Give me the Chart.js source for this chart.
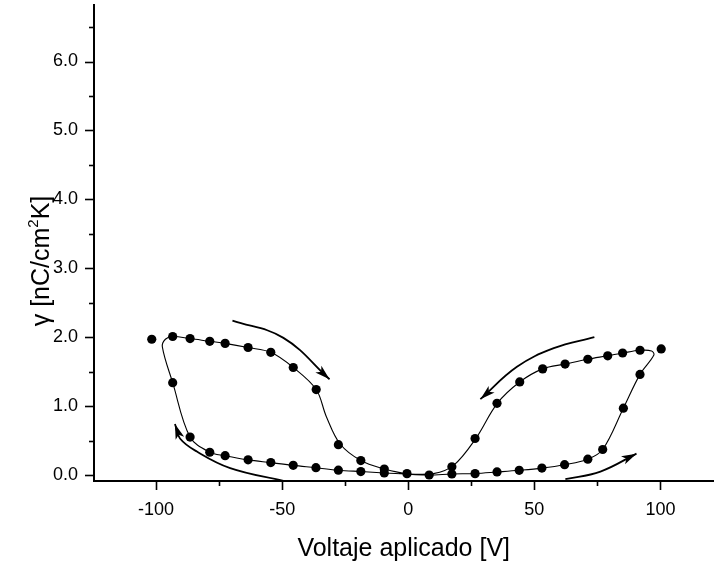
<!DOCTYPE html>
<html><head><meta charset="utf-8">
<script src="https://cdn.jsdelivr.net/npm/chart.js@4/dist/chart.umd.min.js"></script>
<style>html,body{margin:0;padding:0;background:#fff}#wrap{width:718px;height:566px}</style>
</head><body><div id="wrap"><canvas id="c" width="718" height="566"></canvas></div>
<script>
// ---- measured points (voltage V, gamma nC/cm2K) ----
const upperLeftV = [-101.7, -93.4, -86.5, -78.7, -72.6, -63.5, -54.5, -45.6, -36.5, -27.7, -18.8, -9.5];
const upperLeftG = [1.97, 2.01, 1.98, 1.94, 1.91, 1.85, 1.78, 1.56, 1.24, 0.44, 0.21, 0.087];
const lowerLeftV = [-93.4, -86.5, -78.7, -72.6, -63.5, -54.5, -45.6, -36.6, -27.7, -18.8, -9.5, -0.5];
const lowerLeftG = [1.34, 0.55, 0.33, 0.28, 0.22, 0.18, 0.14, 0.106, 0.07, 0.05, 0.03, 0.02];
const upperRightV = [100.3, 91.9, 85.0, 79.1, 71.2, 62.2, 53.3, 44.2, 35.2, 26.5, 17.3];
const upperRightG = [1.83, 1.81, 1.77, 1.73, 1.68, 1.61, 1.54, 1.35, 1.04, 0.53, 0.12];
const lowerRightV = [8.3, 17.3, 26.5, 35.2, 44.0, 53.0, 62.0, 71.2, 77.1, 85.3, 91.9];
const lowerRightG = [0.0, 0.015, 0.02, 0.044, 0.068, 0.10, 0.15, 0.23, 0.37, 0.97, 1.46];

// smooth guide curve traced around both loops
const fitV = [0, 8.3, 17.3, 26.5, 35.2, 44, 53, 62, 71.2, 77.1, 85.3, 91.9, 97.4, 96.5, 91.9, 85, 79.1, 71.2, 62.2, 53.3, 44.2, 35.3, 26.8, 18, 10, 0, -9.5, -18.8, -27.7, -36.6, -45.6, -54.5, -63.5, -72.6, -78.7, -86.5, -93.4, -97.5, -96.3, -93.4, -86.5, -78.7, -72.6, -63.5, -54.5, -45.6, -36.5, -32.5, -27.0, -18.8, -9.5, 0];
const fitG = [0.01, 0.0, 0.015, 0.022, 0.044, 0.068, 0.10, 0.15, 0.23, 0.37, 0.97, 1.46, 1.74, 1.80, 1.81, 1.77, 1.73, 1.68, 1.61, 1.54, 1.35, 1.04, 0.53, 0.14, 0.02, 0.015, 0.03, 0.05, 0.07, 0.106, 0.14, 0.18, 0.22, 0.28, 0.33, 0.55, 1.34, 1.86, 1.97, 2.01, 1.98, 1.94, 1.91, 1.85, 1.78, 1.56, 1.24, 0.85, 0.45, 0.21, 0.087, 0.01];

// direction arrows
const arrow1V = [-69.7, -49.5, -31.2];
const arrow1G = [2.24, 1.99, 1.39];
const arrow2V = [73.8, 57.7, 43.1, 28.6];
const arrow2G = [2.0, 1.84, 1.57, 1.10];
const arrow3V = [62.3, 76.2, 90.5];
const arrow3G = [-0.06, 0.05, 0.31];
const arrow4V = [-49.5, -70.6, -83.8, -90.5, -92.5];
const arrow4G = [-0.085, 0.10, 0.34, 0.53, 0.74];

// axis ticks
const xTicks = [-100, -75, -50, -25, 0, 25, 50, 75, 100];
const xLabels = ['-100', '', '-50', '', '0', '', '50', '', '100'];
const yTicks = [0, 0.5, 1, 1.5, 2, 2.5, 3, 3.5, 4, 4.5, 5, 5.5, 6, 6.5];
const yLabels = ['0.0', '', '1.0', '', '2.0', '', '3.0', '', '4.0', '', '5.0', '', '6.0', ''];

const pts = (xs, ys) => xs.map((v, i) => ({x: v, y: ys[i]}));
const FONT = '"Liberation Sans", Arial, sans-serif';

const allDotsV = [].concat(upperLeftV, lowerLeftV, upperRightV, lowerRightV);
const allDotsG = [].concat(upperLeftG, lowerLeftG, upperRightG, lowerRightG);

function arrowDs(xs, ys) {
  return {data: pts(xs, ys), showLine: true, tension: 0.4, borderColor: '#000', borderWidth: 1.8,
          pointRadius: 0, arrow: true, fill: false};
}

const tickPlugin = {
  id: 'extras',
  afterDraw(chart) {
    const ctx = chart.ctx, xs = chart.scales.x, ys = chart.scales.y, ca = chart.chartArea;
    ctx.save();
    ctx.strokeStyle = '#000'; ctx.lineWidth = 1.6;
    xTicks.forEach((v, i) => {
      const p = Math.round(xs.getPixelForValue(v)) + 0.5;
      const len = xLabels[i] ? 9 : 5;
      ctx.beginPath(); ctx.moveTo(p, ca.bottom); ctx.lineTo(p, ca.bottom + len); ctx.stroke();
    });
    yTicks.forEach((v, i) => {
      const p = Math.round(ys.getPixelForValue(v)) + 0.5;
      const len = yLabels[i] ? 9 : 5;
      ctx.beginPath(); ctx.moveTo(ca.left, p); ctx.lineTo(ca.left - len, p); ctx.stroke();
    });
    // y title with superscript
    ctx.fillStyle = '#000';
    ctx.translate(49, 261); ctx.rotate(-Math.PI / 2);
    const big = '25px ' + FONT, small = '15px ' + FONT;
    const a = '\u03b3 [nC/cm', b = '2', c = 'K]';
    ctx.font = big; const wa = ctx.measureText(a).width, wc = ctx.measureText(c).width;
    ctx.font = small; const wb = ctx.measureText(b).width;
    let x0 = -(wa + wb + wc) / 2;
    ctx.textBaseline = 'alphabetic'; ctx.textAlign = 'left';
    ctx.font = big; ctx.fillText(a, x0, 0);
    ctx.font = small; ctx.fillText(b, x0 + wa, -11);
    ctx.font = big; ctx.fillText(c, x0 + wa + wb, 0);
    ctx.restore();
  },
  afterDatasetsDraw(chart) {
    const ctx = chart.ctx;
    chart.data.datasets.forEach((ds, i) => {
      if (!ds.arrow) return;
      const els = chart.getDatasetMeta(i).data;
      const e = els[els.length - 1], p = els[els.length - 2];
      let fx = (e.cp1x !== undefined) ? e.cp1x : p.x, fy = (e.cp1y !== undefined) ? e.cp1y : p.y;
      let dx = e.x - fx, dy = e.y - fy; const L = Math.hypot(dx, dy) || 1; dx /= L; dy /= L;
      const len = 15, w = 4.5;
      const bx = e.x - dx * len, by = e.y - dy * len;
      const nx = e.x - dx * len * 0.75, ny = e.y - dy * len * 0.75;
      ctx.save(); ctx.fillStyle = '#000';
      ctx.beginPath();
      ctx.moveTo(e.x, e.y);
      ctx.lineTo(bx - dy * w, by + dx * w);
      ctx.lineTo(nx, ny);
      ctx.lineTo(bx + dy * w, by - dx * w);
      ctx.closePath(); ctx.fill(); ctx.restore();
    });
  }
};

new Chart(document.getElementById('c'), {
  type: 'scatter',
  data: {
    datasets: [
      {data: pts(fitV, fitG), showLine: true, tension: 0.35, borderColor: '#000', borderWidth: 1.1, pointRadius: 0, fill: false},
      arrowDs(arrow1V, arrow1G), arrowDs(arrow2V, arrow2G), arrowDs(arrow3V, arrow3G), arrowDs(arrow4V, arrow4G),
      {data: pts(allDotsV, allDotsG), showLine: false, pointRadius: 4.6, pointBackgroundColor: '#000', pointBorderWidth: 0, pointBorderColor: '#000'}
    ]
  },
  options: {
    responsive: false, animation: false, devicePixelRatio: 1,
    layout: {padding: {left: 0, right: 0, top: 5, bottom: 0}},
    plugins: {legend: {display: false}, tooltip: {enabled: false}},
    scales: {
      x: {
        type: 'linear', min: -124.6, max: 121.0,
        afterBuildTicks: s => { s.ticks = xTicks.map(v => ({value: v})); },
        afterFit: s => { s.height = 85; s.paddingLeft = 0; s.paddingRight = 0; },
        ticks: {autoSkip: false, maxRotation: 0, padding: 9, color: '#000', font: {family: FONT, size: 18},
                callback: (v, i) => xLabels[i]},
        grid: {display: true, drawOnChartArea: false, drawTicks: true, tickLength: 9, tickColor: 'rgba(0,0,0,0)'},
        border: {display: true, color: '#000', width: 2},
        title: {display: true, text: 'Voltaje aplicado [V]', color: '#000', font: {family: FONT, size: 25}, padding: {top: 0, bottom: 2}}
      },
      y: {
        type: 'linear', min: -0.087, max: 6.82,
        afterBuildTicks: s => { s.ticks = yTicks.map(v => ({value: v})); },
        afterFit: s => { s.width = 94; s.paddingTop = 0; s.paddingBottom = 0; },
        ticks: {autoSkip: false, padding: 7, color: '#000', font: {family: FONT, size: 18},
                callback: (v, i) => yLabels[i]},
        grid: {display: true, drawOnChartArea: false, drawTicks: true, tickLength: 9, tickColor: 'rgba(0,0,0,0)'},
        border: {display: true, color: '#000', width: 2},
        title: {display: false}
      }
    }
  },
  plugins: [tickPlugin]
});
</script></body></html>
